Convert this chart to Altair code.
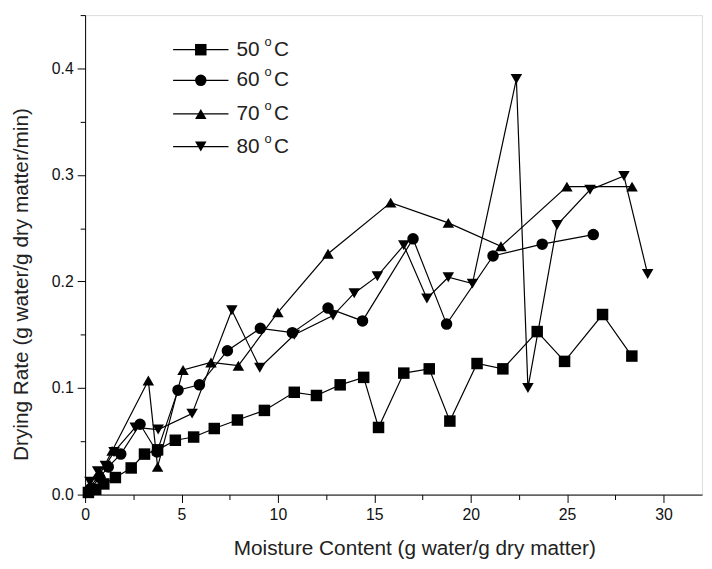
import altair as alt
import pandas as pd

temps = ["50", "60", "70", "80"]
shapes = ["square", "circle", "triangle-up", "triangle-down"]

x50 = [0.17, 0.55, 0.97, 1.57, 2.39, 3.08, 3.76, 4.68, 5.63, 6.70, 7.90, 9.30, 10.85, 12.0, 13.23,
       14.45, 15.22, 16.53, 17.85, 18.92, 20.33, 21.67, 23.45, 24.87, 26.84, 28.36]
y50 = [0.002, 0.005, 0.010, 0.016, 0.025, 0.038, 0.042, 0.051, 0.054, 0.062, 0.070, 0.079, 0.096, 0.093,
       0.103, 0.110, 0.063, 0.114, 0.118, 0.069, 0.123, 0.118, 0.153, 0.125, 0.169, 0.130]

x60 = [0.3, 0.75, 1.2, 1.85, 2.85, 3.73, 4.82, 5.93, 7.38, 9.09, 10.75, 12.6, 14.39, 17.01, 18.75,
       21.16, 23.71, 26.36]
y60 = [0.006, 0.016, 0.026, 0.038, 0.066, 0.040, 0.098, 0.103, 0.135, 0.156, 0.152, 0.175, 0.163,
       0.240, 0.160, 0.224, 0.235, 0.244]

x70 = [0.3, 0.8, 1.4, 3.28, 3.76, 5.08, 6.53, 7.95, 10.0, 12.6, 15.85, 18.84, 21.57, 24.99, 28.37]
y70 = [0.008, 0.020, 0.041, 0.107, 0.026, 0.117, 0.124, 0.121, 0.171, 0.226, 0.274, 0.255, 0.233,
       0.289, 0.289]

x80 = [0.25, 0.65, 1.05, 1.5, 2.6, 3.79, 5.55, 7.61, 9.06, 10.85, 12.86, 13.96, 15.16, 16.53, 17.73,
       18.84, 20.09, 22.37, 22.97, 24.48, 26.19, 27.95, 29.18]
y80 = [0.012, 0.022, 0.027, 0.040, 0.063, 0.061, 0.076, 0.173, 0.119, 0.150, 0.168, 0.189, 0.205,
       0.234, 0.184, 0.204, 0.198, 0.390, 0.100, 0.253, 0.286, 0.299, 0.207]

x_ticks = [0, 2.5, 5, 7.5, 10, 12.5, 15, 17.5, 20, 22.5, 25, 27.5, 30]
y_ticks = [0, 0.05, 0.1, 0.15, 0.2, 0.25, 0.3, 0.35, 0.4, 0.45]

FONT = "Liberation Sans"

rows = []
for t, xs, ys in zip(temps, [x50, x60, x70, x80], [y50, y60, y70, y80]):
    for i, (xv, yv) in enumerate(zip(xs, ys)):
        rows.append({"series": t, "x": xv, "y": yv, "i": i})
df = pd.DataFrame(rows)

# legend rows (pixel positions inside the plot area)
leg = pd.DataFrame({"series": temps, "ly": [35, 66, 100, 133]})

shape_scale = alt.Scale(domain=temps, range=shapes)
xscale = alt.Scale(domain=[0, 32], nice=False, zero=False)
yscale = alt.Scale(domain=[0, 0.45], nice=False)

xaxis = alt.Axis(
    values=x_ticks,
    labelExpr="datum.value % 5 == 0 ? datum.label : ''",
    tickSize={"condition": {"test": "datum.value % 5 == 0", "value": 8}, "value": 5},
    labelFlush=False, labelOverlap=False, grid=False,
    labelFont=FONT, labelFontSize=16, labelColor="#111", labelPadding=4,
    title="Moisture Content (g water/g dry matter)",
    titleFont=FONT, titleFontSize=21, titleFontWeight="normal", titleColor="#222",
    titleX=333, titleY=55, titleBaseline="middle", titleAlign="center",
    domainColor="black", tickColor="black",
)
yaxis = alt.Axis(
    values=y_ticks,
    labelExpr="round(datum.value*100) % 10 == 0 ? format(datum.value, '.1f') : ''",
    tickSize={"condition": {"test": "round(datum.value*100) % 10 == 0", "value": 8}, "value": 5},
    labelFlush=False, labelOverlap=False, grid=False,
    labelFont=FONT, labelFontSize=16, labelColor="#111", labelPadding=4,
    title="Drying Rate (g water/g dry matter/min)",
    titleFont=FONT, titleFontSize=21, titleFontWeight="normal", titleColor="#222",
    titleX=-64, titleY=272, titleBaseline="middle", titleAlign="center", titleAngle=270,
    domainColor="black", tickColor="black",
)

base = alt.Chart(df)
lines = base.mark_line(color="black", strokeWidth=1.2).encode(
    x=alt.X("x:Q", scale=xscale, axis=xaxis),
    y=alt.Y("y:Q", scale=yscale, axis=yaxis),
    detail="series:N",
    order="i:Q",
)
points = base.mark_point(filled=True, color="black", opacity=1, size=135).encode(
    x=alt.X("x:Q", scale=xscale),
    y=alt.Y("y:Q", scale=yscale),
    shape=alt.Shape("series:N", scale=shape_scale, legend=None),
)

lb = alt.Chart(leg)
leg_lines = lb.mark_rule(color="black", strokeWidth=1.2).encode(
    x=alt.value(89), x2=alt.value(145), y=alt.Y("ly:Q", scale=None)
)
leg_pts = lb.mark_point(filled=True, color="black", opacity=1, size=135).encode(
    x=alt.value(117), y=alt.Y("ly:Q", scale=None),
    shape=alt.Shape("series:N", scale=shape_scale, legend=None),
)
leg_num = lb.mark_text(align="left", baseline="middle", font=FONT, fontSize=21, color="#222").encode(
    x=alt.value(153), y=alt.Y("ly:Q", scale=None), text="series:N"
)
leg_o = lb.mark_text(align="center", baseline="middle", font=FONT, fontSize=13, color="#222", dy=-8).encode(
    x=alt.value(185), y=alt.Y("ly:Q", scale=None), text=alt.value("o")
)
leg_c = lb.mark_text(align="left", baseline="middle", font=FONT, fontSize=21, color="#222").encode(
    x=alt.value(191), y=alt.Y("ly:Q", scale=None), text=alt.value("C")
)

chart = alt.layer(lines, points, leg_lines, leg_pts, leg_num, leg_o, leg_c).properties(
    width=624, height=485,
    autosize=alt.AutoSizeParams(type="none"),
    padding={"left": 78, "top": 4, "right": 2, "bottom": 64},
).configure_view(stroke=None).configure(background="white")

chart.save("out.html", embed_options={"renderer": "svg", "actions": False})
